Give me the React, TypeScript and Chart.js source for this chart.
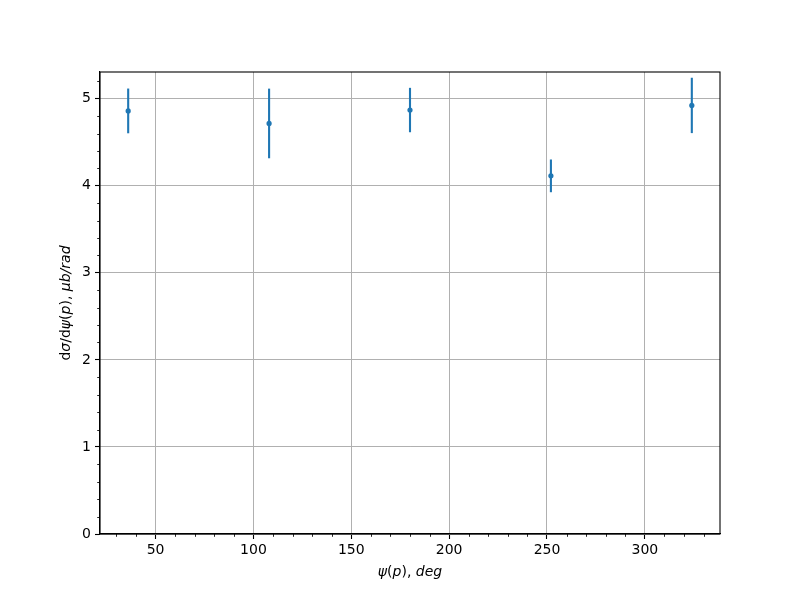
import React, { useEffect, useRef } from "react";
import { Chart, registerables } from "chart.js";

Chart.register(...registerables);

// ---- data ----
const angles = [36, 108, 180, 252, 324];
const crossSection = [4.86, 4.716, 4.87, 4.114, 4.923];
const crossSectionErr = [0.257, 0.4, 0.255, 0.188, 0.318];
const xTickValues = [50, 100, 150, 200, 250, 300];
const yTickValues = [0, 1, 2, 3, 4, 5];
const xRange = [21.6, 338.4];
const yRange = [0, 5.307];
const xMinorStep = 10;
const yMinorStep = 0.2;
const xLabelParts: [string, boolean][] = [["ψ", true], ["(", false], ["p", true], ["), ", false], ["deg", true]];
const yLabelParts: [string, boolean][] = [["d", false], ["σ", true], ["/d", false], ["ψ", true], ["(", false], ["p", true], ["), ", false], ["μb/rad", true]];

const BLUE = "#1f77b4";
const FONT = "'DejaVu Sans', sans-serif";

function drawParts(ctx: CanvasRenderingContext2D, parts: [string, boolean][], size: number) {
  const fontFor = (it: boolean) => `${it ? "italic " : ""}${size}px ${FONT}`;
  let total = 0;
  const widths = parts.map(([t, it]) => {
    ctx.font = fontFor(it);
    const w = ctx.measureText(t).width;
    total += w;
    return w;
  });
  let x = -total / 2;
  ctx.textBaseline = "middle";
  ctx.textAlign = "left";
  parts.forEach(([t, it], i) => {
    ctx.font = fontFor(it);
    ctx.fillText(t, x, 0);
    x += widths[i];
  });
}

const decorPlugin = {
  id: "decor",
  beforeDatasetsDraw(chart: any) {
    const ctx = chart.ctx as CanvasRenderingContext2D;
    const xs = chart.scales.x;
    const ys = chart.scales.y;
    ctx.save();
    ctx.strokeStyle = BLUE;
    ctx.lineWidth = 2.1;
    angles.forEach((a, i) => {
      const px = xs.getPixelForValue(a);
      const top = ys.getPixelForValue(crossSection[i] + crossSectionErr[i]);
      const bot = ys.getPixelForValue(crossSection[i] - crossSectionErr[i]);
      ctx.beginPath();
      ctx.moveTo(px, top);
      ctx.lineTo(px, bot);
      ctx.stroke();
    });
    ctx.restore();
  },
  afterDraw(chart: any) {
    const ctx = chart.ctx as CanvasRenderingContext2D;
    const area = chart.chartArea;
    const xs = chart.scales.x;
    const ys = chart.scales.y;
    ctx.save();
    // minor ticks
    ctx.strokeStyle = "#000";
    ctx.lineWidth = 0.85;
    ctx.beginPath();
    for (let v = Math.ceil(xRange[0] / xMinorStep) * xMinorStep; v <= xRange[1]; v += xMinorStep) {
      if (xTickValues.includes(v)) continue;
      const px = Math.round(xs.getPixelForValue(v)) + 0.5;
      ctx.moveTo(px, area.bottom);
      ctx.lineTo(px, area.bottom + 2.8);
    }
    for (let k = 0; k * yMinorStep <= yRange[1]; k++) {
      const v = k * yMinorStep;
      if (k % 5 === 0) continue;
      const py = Math.round(ys.getPixelForValue(v)) + 0.5;
      ctx.moveTo(area.left, py);
      ctx.lineTo(area.left - 2.8, py);
    }
    ctx.stroke();
    // frame
    ctx.lineWidth = 1.1;
    ctx.strokeRect(area.left, area.top, area.right - area.left, area.bottom - area.top);
    // axis labels
    ctx.fillStyle = "#000";
    ctx.save();
    ctx.translate((area.left + area.right) / 2, area.bottom + 38);
    drawParts(ctx, xLabelParts, 14);
    ctx.restore();
    ctx.save();
    ctx.translate(area.left - 34, (area.top + area.bottom) / 2);
    ctx.rotate(-Math.PI / 2);
    drawParts(ctx, yLabelParts, 14);
    ctx.restore();
    ctx.restore();
  },
};

export default function App() {
  const ref = useRef<HTMLCanvasElement | null>(null);
  useEffect(() => {
    if (!ref.current) return;
    Chart.defaults.font.family = FONT;
    Chart.defaults.font.size = 14;
    Chart.defaults.color = "#000";
    const chart = new Chart(ref.current, {
      type: "scatter",
      data: {
        datasets: [
          {
            data: angles.map((a, i) => ({ x: a, y: crossSection[i] })),
            backgroundColor: BLUE,
            borderColor: BLUE,
            pointRadius: 2.6,
            pointBorderWidth: 0,
          },
        ],
      },
      options: {
        animation: false,
        responsive: false,
        events: [],
        layout: { padding: { left: 0, top: 72, right: 80, bottom: 0 } },
        plugins: { legend: { display: false }, tooltip: { enabled: false } },
        scales: {
          x: {
            type: "linear",
            min: xRange[0],
            max: xRange[1],
            afterBuildTicks: (s: any) => {
              s.ticks = xTickValues.map((v) => ({ value: v }));
            },
            afterFit: (s: any) => {
              s.height = 66;
            },
            grid: { color: "#b0b0b0", lineWidth: 1, tickColor: "#000", tickLength: 5, tickWidth: 1.1 },
            border: { display: true, color: "#000", width: 1.1 },
            ticks: { padding: 3, color: "#000", font: { size: 14, family: FONT }, maxRotation: 0, autoSkip: false },
          },
          y: {
            type: "linear",
            min: yRange[0],
            max: yRange[1],
            afterBuildTicks: (s: any) => {
              s.ticks = yTickValues.map((v) => ({ value: v }));
            },
            afterFit: (s: any) => {
              s.width = 100;
            },
            grid: { color: "#b0b0b0", lineWidth: 1, tickColor: "#000", tickLength: 5, tickWidth: 1.1 },
            border: { display: true, color: "#000", width: 1.1 },
            ticks: { padding: 4, color: "#000", font: { size: 14, family: FONT }, autoSkip: false },
          },
        },
      },
      plugins: [decorPlugin],
    });
    return () => chart.destroy();
  }, []);
  return (
    <div style={{ position: "fixed", left: 0, top: 0, width: 800, height: 600, background: "#fff" }}>
      <canvas ref={ref} width={800} height={600} />
    </div>
  );
}
